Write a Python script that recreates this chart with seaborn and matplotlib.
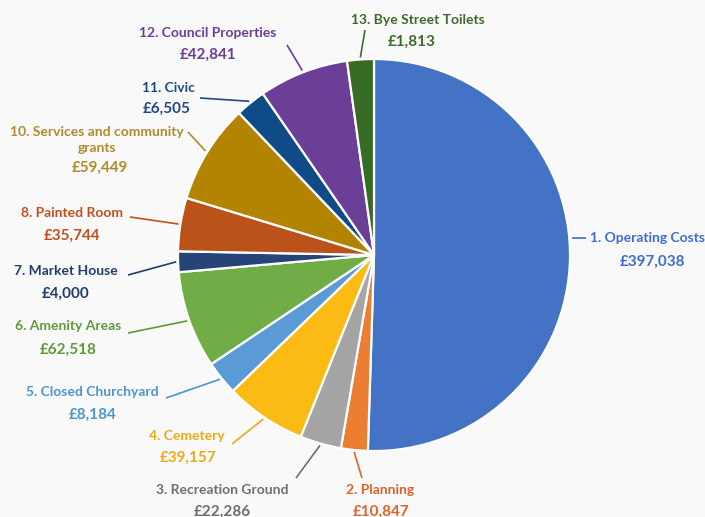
import numpy as np
import matplotlib
matplotlib.use("Agg")
import matplotlib.pyplot as plt
import seaborn as sns

# ---- data ----
categories = ["1. Operating Costs", "2. Planning", "3. Recreation Ground", "4. Cemetery",
              "5. Closed Churchyard", "6. Amenity Areas", "7. Market House", "8. Painted Room",
              "10. Services and community\ngrants", "11. Civic", "12. Council Properties",
              "13. Bye Street Toilets"]
amounts = ["£397,038", "£10,847", "£22,286", "£39,157", "£8,184", "£62,518", "£4,000",
           "£35,744", "£59,449", "£6,505", "£42,841", "£1,813"]
# slice shares (%) as drawn in the picture
slice_share = [50.5, 2.2, 3.4, 6.7, 2.8, 8.0, 1.7, 4.4, 8.2, 2.5, 7.4, 2.2]

# ---- style ----
slice_colors = ["#4472C4", "#ED7D31", "#A5A5A5", "#FBBA14", "#5B9BD5", "#70AD47",
                "#264478", "#BA521A", "#B38402", "#0F4C87", "#6B3E98", "#386B25"]
text_colors = ["#3F6CD0", "#E0622A", "#6E6E6E", "#F0A818", "#4B95D1", "#5E9A3A",
               "#233C6E", "#C0501E", "#B08A2C", "#1E4A80", "#6A3D9A", "#3C6B2C"]
# name-line centre, value-line centre (pixel coords), leader-line outer end
name_pos = [(648, 238), (380, 490), (222, 490), (187, 436), (92, 392), (68, 326),
            (66, 271), (72, 213), (97, 140), (168, 88), (208, 33), (418, 20)]
value_pos = [(652, 262), (381, 512), (222, 512), (188, 458), (93, 415), (68, 350),
             (66, 294), (72, 236), (100, 168), (167, 109), (208, 55), (412, 42)]
line_end = [(586, 238), (362, 478), (296, 478), (232, 444), (166, 398), (128, 333),
            (128, 275), (130, 217), (188, 132), (200, 98), (287, 45), (365, 30)]

W, H = 705, 517
sns.set_theme(style="white")
plt.rcParams['font.family'] = ['Lato', 'DejaVu Sans']
bg = "#F9F9F9"

fig = plt.figure(figsize=(W / 100, H / 100), dpi=100, facecolor=bg)
ax = fig.add_axes([0, 0, 1, 1])
ax.set_facecolor(bg)

def P(x, y):
    return x, H - y

cx, cy = P(374, 255)
R = 196
wedges, _ = ax.pie(slice_share, colors=slice_colors, startangle=90, counterclock=False,
                   center=(cx, cy), radius=R, frame=True,
                   wedgeprops=dict(edgecolor="white", linewidth=1.6))
ax.set_xlim(0, W)
ax.set_ylim(0, H)
ax.set_aspect("equal")
ax.axis("off")

for i, w in enumerate(wedges):
    mid = np.deg2rad((w.theta1 + w.theta2) / 2)
    sx, sy = cx + R * 1.01 * np.cos(mid), cy + R * 1.01 * np.sin(mid)
    if i == 0:
        sy = H - line_end[0][1]
        sx = cx + np.sqrt(R ** 2 - (sy - cy) ** 2) + 3
    ex, ey = P(*line_end[i])
    ax.plot([sx, ex], [sy, ey], color=text_colors[i], lw=1.2, solid_capstyle="butt")
    tx, ty = P(*name_pos[i])
    ax.text(tx, ty, categories[i], ha="center", va="center", multialignment="center",
            color=text_colors[i], fontsize=10, fontweight="bold", linespacing=1.45)
    vx, vy = P(*value_pos[i])
    ax.text(vx, vy, amounts[i], ha="center", va="center",
            color=text_colors[i], fontsize=11, fontweight="bold")

fig.savefig("out.png", dpi=100, facecolor=bg)
